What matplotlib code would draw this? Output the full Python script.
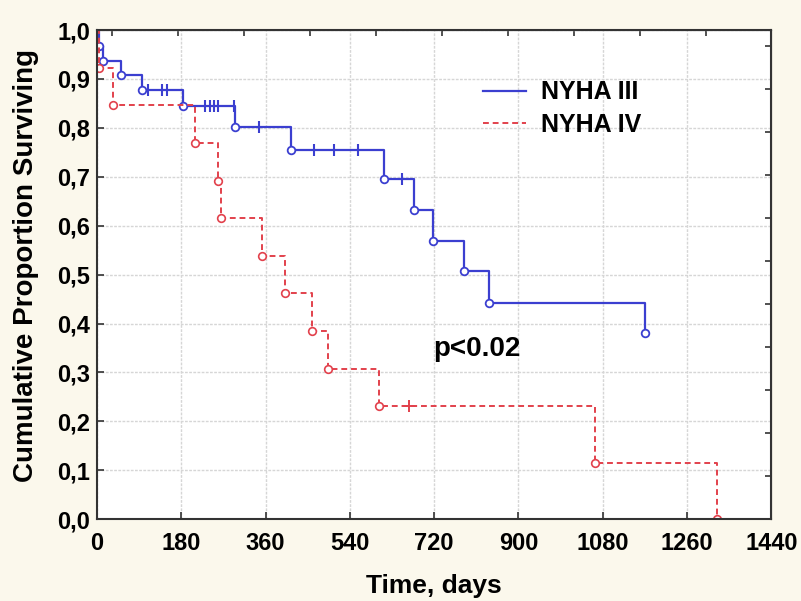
import numpy as np
import matplotlib.pyplot as plt
from matplotlib.ticker import FixedLocator, FuncFormatter, NullFormatter

plt.rcParams['font.family'] = ['Liberation Sans', 'DejaVu Sans']
plt.rcParams['font.weight'] = 'bold'

# NYHA III: event times (days) and survival after each event
t3_events = [5, 12, 51, 97, 183, 295, 415, 614, 676, 717, 783, 838, 1171]
s3_events = [0.967, 0.937, 0.909, 0.877, 0.844, 0.801, 0.754, 0.695, 0.632, 0.568, 0.507, 0.443, 0.380]
t3_cens = [110, 140, 150, 231, 241, 250, 259, 293, 347, 464, 506, 558, 652]
s3_cens = [0.877, 0.877, 0.877, 0.844, 0.844, 0.844, 0.844, 0.844, 0.801, 0.754, 0.754, 0.754, 0.695]

# NYHA IV
t4_events = [4, 34, 209, 259, 264, 352, 402, 460, 493, 602, 1063, 1324]
s4_events = [0.923, 0.846, 0.769, 0.692, 0.615, 0.538, 0.462, 0.385, 0.308, 0.231, 0.115, 0.0]
t4_cens = [667]
s4_cens = [0.231]

x_ticks = np.arange(0, 1441, 180)
y_ticks = np.arange(0, 1.01, 0.1)
# frame ticks on top / right edge
top_ticks = 32 + 141 * np.arange(10)
right_ticks = 0.088 * np.arange(1, 12)

blue = '#3b3fd0'
red = '#e2414c'
frame = '#333333'

fig = plt.figure(figsize=(8.01, 6.01), dpi=100, facecolor='#fbf8ec')
ax = fig.add_axes([0.121, 0.136, 0.842, 0.814])
ax.set_facecolor('white')

ax.step([0] + t3_events, [1.0] + s3_events, where='post', color=blue, lw=1.6, label='NYHA III')
ax.plot(t3_events, s3_events, ls='none', marker='o', ms=5.5, mfc='white', mec=blue, mew=1.3)
ax.plot(t3_cens, s3_cens, ls='none', marker='|', ms=9, mec=blue, mew=1.5)

ax.step([0] + t4_events, [1.0] + s4_events, where='post', color=red, lw=1.4,
        dashes=(3, 2), label='NYHA IV')
ax.plot(t4_events, s4_events, ls='none', marker='o', ms=5.5, mfc='white', mec=red, mew=1.2)
ax.plot(t4_cens, s4_cens, ls='none', marker='+', ms=9, mec=red, mew=1.4)

ax.set_xlim(0, 1440)
ax.set_ylim(0, 1.0)
ax.xaxis.set_major_locator(FixedLocator(x_ticks))
ax.yaxis.set_major_locator(FixedLocator(y_ticks))
ax.yaxis.set_major_formatter(FuncFormatter(lambda v, p: f'{v:.1f}'.replace('.', ',')))
ax.grid(True, color='#d6d6d6', lw=1.0, ls=(0, (2, 1)))
ax.set_axisbelow(True)
ax.tick_params(direction='in', length=5, width=1.2, color=frame, labelsize=17, pad=5)
ax.tick_params(axis='x', pad=9)
for lab in ax.get_xticklabels() + ax.get_yticklabels():
    lab.set_fontweight('bold')
for sp in ax.spines.values():
    sp.set_color(frame)
    sp.set_linewidth(1.5)

top = ax.secondary_xaxis('top')
top.xaxis.set_major_locator(FixedLocator(top_ticks))
top.xaxis.set_major_formatter(NullFormatter())
top.tick_params(direction='in', length=4, width=1.2, color=frame)
right = ax.secondary_yaxis('right')
right.yaxis.set_major_locator(FixedLocator(right_ticks))
right.yaxis.set_major_formatter(NullFormatter())
right.tick_params(direction='in', length=4, width=1.2, color=frame)

ax.set_xlabel('Time, days', fontsize=19, fontweight='bold', labelpad=14)
ax.set_ylabel('Cumulative Proportion Surviving', fontsize=20, fontweight='bold')
ax.yaxis.set_label_coords(-0.086, 0.519)

ax.legend(loc='center left', bbox_to_anchor=(0.573, 0.839), frameon=False,
          borderpad=0, borderaxespad=0, prop={'size': 18, 'weight': 'bold'},
          handlelength=1.7, handletextpad=0.6, labelspacing=0.35)
ax.text(0.498, 0.348, 'p<0.02', transform=ax.transAxes, fontsize=20, fontweight='bold',
        ha='left', va='center')

fig.savefig('out.png', dpi=100, facecolor=fig.get_facecolor())
